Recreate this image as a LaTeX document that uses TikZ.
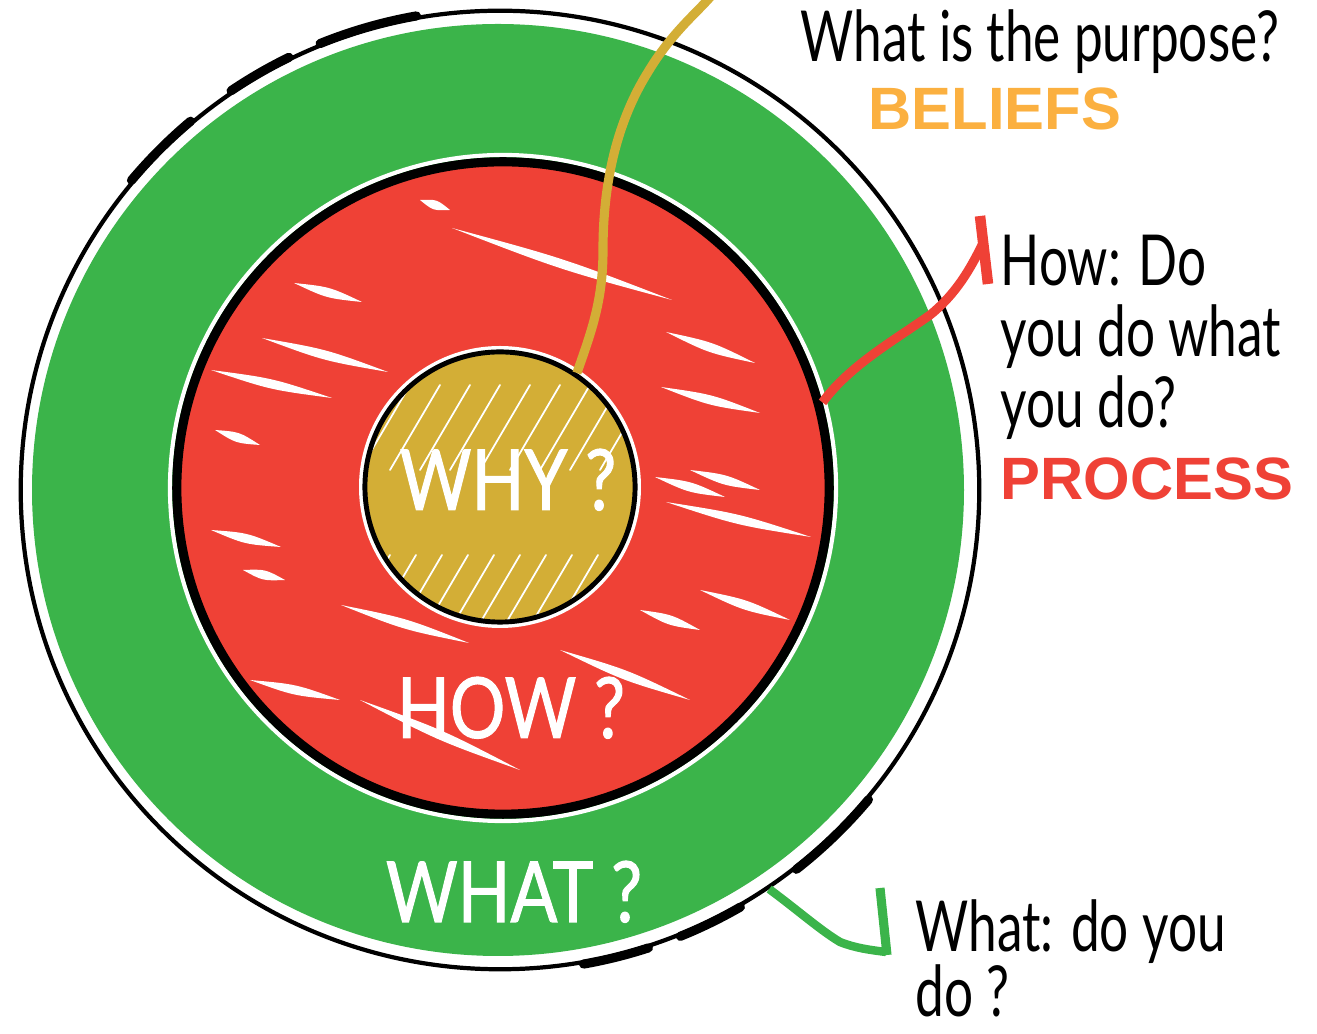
\documentclass[tikz,border=0pt]{standalone}
\usepackage{fontspec}
\usetikzlibrary{calc}
\newfontfamily\hand[FakeStretch=0.73]{Lato}
\newfontfamily\handw[FakeStretch=0.82,FakeBold=1.2]{Lato}
\newfontfamily\sansb{Liberation Sans}
\definecolor{cgreen}{HTML}{3BB44A}
\definecolor{cred}{HTML}{EF4136}
\definecolor{cgold}{HTML}{D3AE36}
\definecolor{corange}{HTML}{FBB040}
\tikzset{
  ghatch/.style={white, line width=0.5pt, line cap=round},
  handtxt/.style={anchor=base west, inner sep=0pt, font=\hand\fontsize{20}{20}\selectfont},
  handblock/.style={anchor=base west, inner sep=0pt, align=left, font=\hand\fontsize{20}{#1}\selectfont},
  bigtxt/.style={anchor=base, inner sep=0pt, text=white, font=\handw\fontsize{24}{24}\selectfont},
  keytxt/.style={anchor=base west, inner sep=0pt, font=\sansb\bfseries\fontsize{17}{17}\selectfont},
  ring/.style={circle, draw=black, inner sep=0pt},
  sketch/.style={line width=2.6pt, line cap=round},
}
\newcommand\hst[2]{\fill[white] (#1) .. controls ($(#1)!0.5!(#2)!1.7pt!90:(#2)$) .. (#2)
  .. controls ($(#1)!0.5!(#2)!1.7pt!-90:(#2)$) .. (#1) -- cycle;}
\begin{document}
\begin{tikzpicture}[x=0.01cm,y=-0.01cm]
\useasboundingbox (0,0) rectangle (1317,1034);
% outer green disc
\fill[cgreen] (498,490) circle (466);
\node[ring, line width=1.2pt, minimum size=9.58cm] (what) at (500,490) {};
% sketchy thick parts of the outer line
\draw[sketch] (what.100) arc[start angle=100, end angle=112, radius=4.79cm];
\draw[sketch] (what.116) arc[start angle=116, end angle=124, radius=4.79cm];
\draw[sketch] (what.130) arc[start angle=130, end angle=140, radius=4.79cm];
\draw[sketch] (what.-80) arc[start angle=-80, end angle=-72, radius=4.79cm];
\draw[sketch] (what.-68) arc[start angle=-68, end angle=-60, radius=4.79cm];
\draw[sketch] (what.-52) arc[start angle=-52, end angle=-40, radius=4.79cm];
% red disc
\draw[white, line width=1.2pt] (503,488) circle (333);
\fill[cred] (503,488) circle (326);
\begin{scope}
\clip (503,488) circle (322);
\hst{452,228}{672,300}
\hst{294,283}{362,302}
\hst{262,338}{388,372}
\hst{211,370}{332,398}
\hst{666,332}{755,363}
\hst{661,387}{760,413}
\hst{655,477}{725,497}
\hst{666,502}{811,537}
\hst{211,530}{281,547}
\hst{243,570}{285,580}
\hst{341,605}{469,643}
\hst{420,200}{450,210}
\hst{690,470}{760,490}
\hst{700,590}{790,620}
\hst{560,650}{690,700}
\hst{250,680}{340,700}
\hst{360,700}{520,770}
\hst{640,610}{700,630}
\hst{215,430}{260,445}
\end{scope}
\node[ring, line width=2.6pt, minimum size=6.52cm] (how) at (503,488) {};
% gold disc
\fill[white] (500,487) circle (141);
\fill[cgold] (500,487) circle (133);
\begin{scope}
\clip (500,487) circle (133);
\foreach \s in {0,26,...,330}{
  \draw[ghatch] (340+\s,640) -- (390+\s,555);
}
\foreach \s in {0,30,...,260}{
  \draw[ghatch] (360+\s,470) -- (410+\s,385);
}
\end{scope}
\node[ring, line width=1.4pt, minimum size=2.7cm] (why) at (500,487) {};
% connectors
\coordinate (beliefEnd) at (712,-5);
\draw[cgold, line width=2.6pt] (why.56) .. controls (592,330) and (603,300) .. (603,250)
  .. controls (603,180) and (618,120) .. (648,72) .. controls (672,32) and (698,12) .. (beliefEnd);
\coordinate (procEnd) at (983,243);
\coordinate (procBarA) at (980,216);
\coordinate (procBarB) at (988,284);
\draw[cred, line width=2.6pt] (how.15) .. controls (850,365) and (895,340) .. (930,315)
  .. controls (955,295) and (970,270) .. (procEnd);
\draw[cred, line width=3pt] (procBarA) -- (procBarB);
\coordinate (whatEnd) at (886,952);
\coordinate (whatBarA) at (880,888);
\coordinate (whatBarB) at (887,955);
\draw[cgreen, line width=2.4pt] (what.-56) .. controls (800,912) and (820,930) .. (840,942)
  .. controls (855,948) and (870,950) .. (whatEnd);
\draw[cgreen, line width=2.6pt] (whatBarA) -- (whatBarB);
% labels inside
\node[bigtxt] (whyl) at (508,510) {WHY ?};
\node[bigtxt] (howl) at (511,738) {HOW ?};
\node[bigtxt] (whatl) at (514,922) {WHAT ?};
% labels outside
\node[handtxt] (t1) at (800,62) {What is the purpose?};
\node[keytxt, text=corange] (t2) at (868,130) {BELIEFS};
\node[handblock=20.3pt] (p1) at (1000,428) {How: Do\\you do what\\you do?};
\node[keytxt, text=cred] (p4) at (1000,500) {PROCESS};
\node[handblock=18.6pt] (w1) at (915,1017) {What: do you\\do ?};
\end{tikzpicture}
\end{document}
